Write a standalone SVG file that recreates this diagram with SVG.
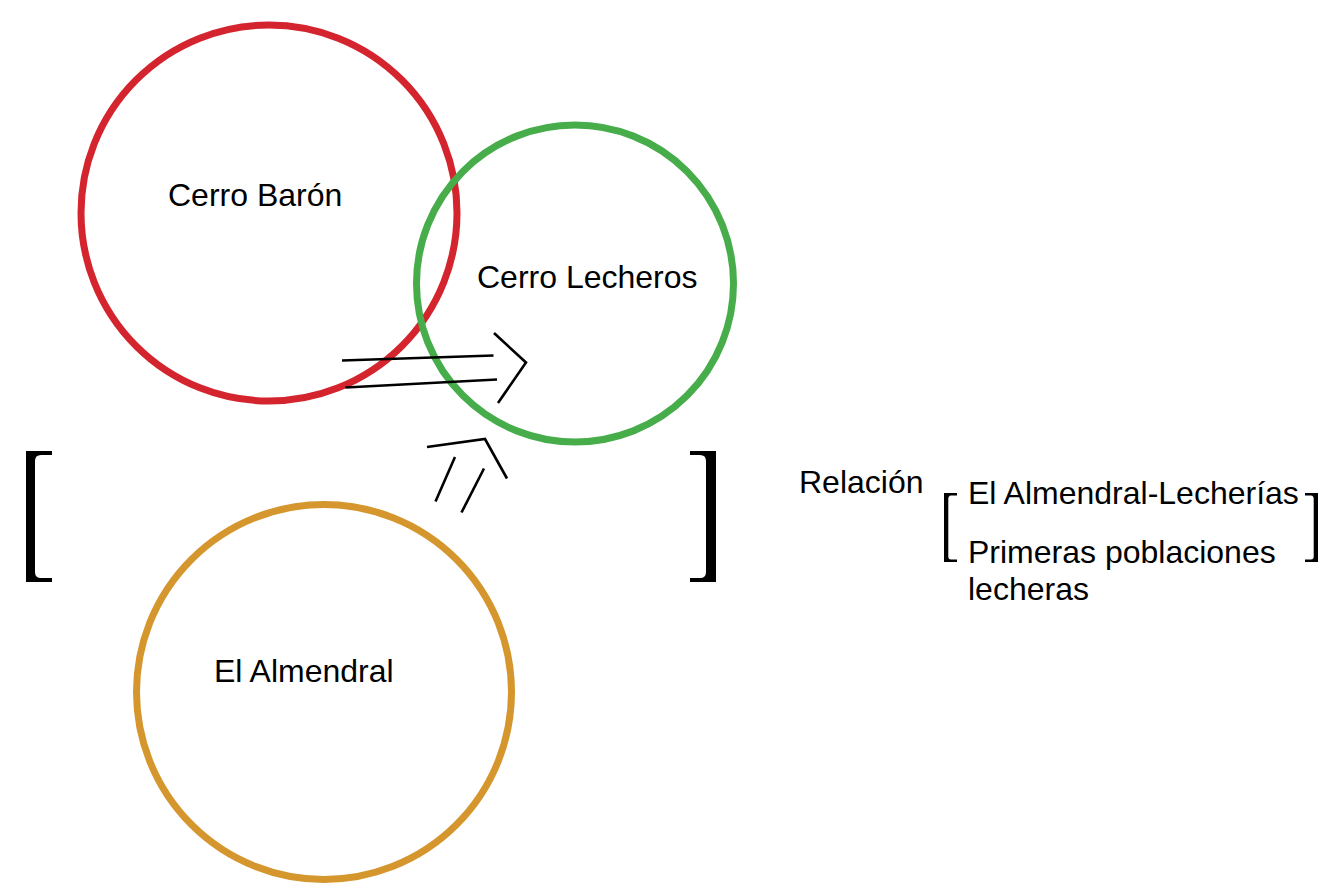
<svg xmlns="http://www.w3.org/2000/svg" width="1324" height="884" viewBox="0 0 1324 884">
<style>
.lbl{font-family:"Liberation Sans",Arial,sans-serif;font-size:32px;fill:#000}
.ring{fill:none;stroke-width:7}
.ln{fill:none;stroke:#000;stroke-width:2.6;stroke-linecap:butt;stroke-linejoin:miter}
.br{fill:#000}
</style>
<rect width="1324" height="884" fill="#fff"/>
<g id="cerro-baron">
<circle class="ring" cx="269" cy="213" r="188" stroke="#d4242d"/>
<text class="lbl" x="168" y="206">Cerro Barón</text>
</g>
<g id="cerro-lecheros">
<circle class="ring" cx="575" cy="283.5" r="158.5" stroke="#46ad4a"/>
<text class="lbl" x="477" y="288">Cerro Lecheros</text>
</g>
<g id="el-almendral">
<circle class="ring" cx="324" cy="692" r="187.5" stroke="#d4962d"/>
<text class="lbl" x="214" y="682">El Almendral</text>
</g>
<g id="connectors">
<line class="ln" x1="342" y1="360.5" x2="493.5" y2="355.5"/>
<line class="ln" x1="345.5" y1="387.5" x2="497" y2="379.5"/>
<polyline class="ln" points="494,333 526,362.5 498,403"/>
<polyline class="ln" points="427,447 485,439 507,478.5"/>
<line class="ln" x1="455" y1="457" x2="435.5" y2="501.5"/>
<line class="ln" x1="484" y1="468.5" x2="461.5" y2="512.5"/>
</g>
<g id="brackets">
<path class="br" d="M52,451 L26,451 L26,582 L52,582 L52,578 L41,578 Q35,578 35,572 L35,461 Q35,455 41,455 L52,455 Z"/>
<path class="br" d="M690,451 L716,451 L716,582 L690,582 L690,578 L700,578 Q706,578 706,572 L706,461 Q706,455 700,455 L690,455 Z"/>
</g>
<g id="relacion">
<text class="lbl" x="799" y="493">Relación</text>
<path class="br" d="M957,493 L944,493 L944,562 L957,562 L957,559.5 L951,559.5 Q948.3,559.5 948.3,556.5 L948.3,499 Q948.3,495.5 951,495.5 L957,495.5 Z"/>
<path class="br" d="M1305,493 L1318,493 L1318,562 L1305,562 L1305,559.5 L1311,559.5 Q1313.7,559.5 1313.7,556.5 L1313.7,499 Q1313.7,495.5 1311,495.5 L1305,495.5 Z"/>
<text class="lbl" x="968" y="504">El Almendral-Lecherías</text>
<text class="lbl" x="968" y="563">Primeras poblaciones</text>
<text class="lbl" x="968" y="600">lecheras</text>
</g>
</svg>
